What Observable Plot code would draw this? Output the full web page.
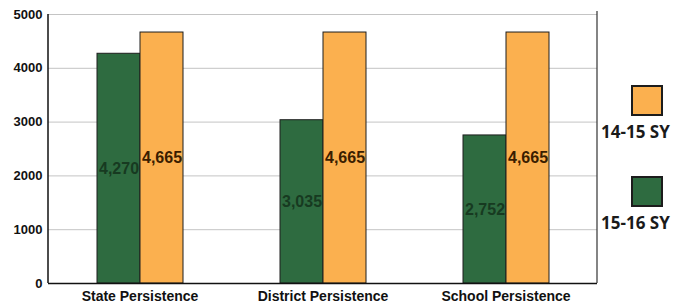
<!DOCTYPE html>
<html>
<head>
<meta charset="utf-8">
<script src="https://cdn.jsdelivr.net/npm/d3@7"></script>
<script src="https://cdn.jsdelivr.net/npm/@observablehq/plot@0.6"></script>
<style>
  html, body { margin: 0; padding: 0; background: #fff; }
  #wrap { position: relative; width: 690px; height: 307px; }
  #legend { position: absolute; left: 600px; top: 0; width: 90px; height: 307px; font-family: "Open Sans", sans-serif; font-weight: bold; font-size: 17px; color: #1a1a1a; }
  .sw { position: absolute; width: 28px; height: 27px; border: 2px solid #1c1c1c; box-sizing: content-box; }
  .lt { position: absolute; white-space: nowrap; line-height: 1; }
</style>
</head>
<body>
<div id="wrap"><div id="chart"></div><div id="legend"></div></div>
<script>
const categories = ["State Persistence", "District Persistence", "School Persistence"];
const series = ["15-16 SY", "14-15 SY"];
const values1516 = [4270, 3035, 2752];
const values1415 = [4665, 4665, 4665];
const yTicks = [0, 1000, 2000, 3000, 4000, 5000];
const seriesColors = ["#2e6b40", "#fbb04f"];
const labelColors = ["#173a21", "#3a1d00"];
const legendOrder = ["14-15 SY", "15-16 SY"];

const data = categories.flatMap((c, i) => [
  {cat: c, series: series[0], value: values1516[i]},
  {cat: c, series: series[1], value: values1415[i]}
]);

const fmt = d3.format(",");

const plot = Plot.plot({
  width: 600,
  height: 307,
  marginLeft: 48,
  marginRight: 3,
  marginTop: 14,
  marginBottom: 24,
  style: {fontFamily: "'Liberation Sans', Arial, sans-serif", background: "#fff", color: "#111"},
  fx: {domain: categories, padding: 0, label: null, axis: null},
  x: {domain: series, paddingInner: 0, paddingOuter: 1.08, axis: null},
  y: {domain: [0, 5000], label: null, axis: null},
  color: {domain: series, range: seriesColors},
  marks: [
    Plot.gridY(yTicks, {stroke: "#c4c4c4", strokeOpacity: 1}),
    Plot.axisY(yTicks, {anchor: "left", tickSize: 0, tickPadding: 6, fontSize: 13, fontWeight: "bold", tickFormat: d => String(d), label: null}),
    Plot.axisFx({anchor: "bottom", tickSize: 0, tickPadding: 8, fontSize: 14, fontWeight: "bold", label: null}),
    Plot.barY(data, {fx: "cat", x: "series", y: "value", fill: "series", stroke: "#1e1e1e", strokeWidth: 1, inset: 0}),
    Plot.text(data.filter(d => d.series === series[0]), {fx: "cat", x: "series", y: d => d.value / 2, text: d => fmt(d.value), fill: labelColors[0], fontSize: 16, fontWeight: "bold"}),
    Plot.text(data.filter(d => d.series === series[1]), {fx: "cat", x: "series", y: d => d.value / 2, text: d => fmt(d.value), fill: labelColors[1], fontSize: 16, fontWeight: "bold"}),
    Plot.ruleY([0], {stroke: "#111", strokeWidth: 1.5})
  ]
});

document.getElementById("chart").appendChild(plot);

// frame lines (left axis and right border) placed via the plot's y scale
const ys = plot.scale("y");
const svg = d3.select(plot);
const y0 = ys.apply(0), y1 = ys.apply(5000);
svg.append("line").attr("x1", 48).attr("x2", 48).attr("y1", y1).attr("y2", y0).attr("stroke", "#111").attr("stroke-width", 1.5);
svg.append("line").attr("x1", 597).attr("x2", 597).attr("y1", y1 - 3).attr("y2", y0).attr("stroke", "#333").attr("stroke-width", 1.2);

// legend
const legend = document.getElementById("legend");
const legendTops = [85, 176];
legendOrder.forEach((s, i) => {
  const sw = document.createElement("div");
  sw.className = "sw";
  sw.style.left = "31px";
  sw.style.top = legendTops[i] + "px";
  sw.style.background = seriesColors[series.indexOf(s)];
  legend.appendChild(sw);
  const t = document.createElement("div");
  t.className = "lt";
  t.style.left = "1px";
  t.style.top = (legendTops[i] + 38) + "px";
  t.textContent = s;
  legend.appendChild(t);
});
</script>
</body>
</html>
